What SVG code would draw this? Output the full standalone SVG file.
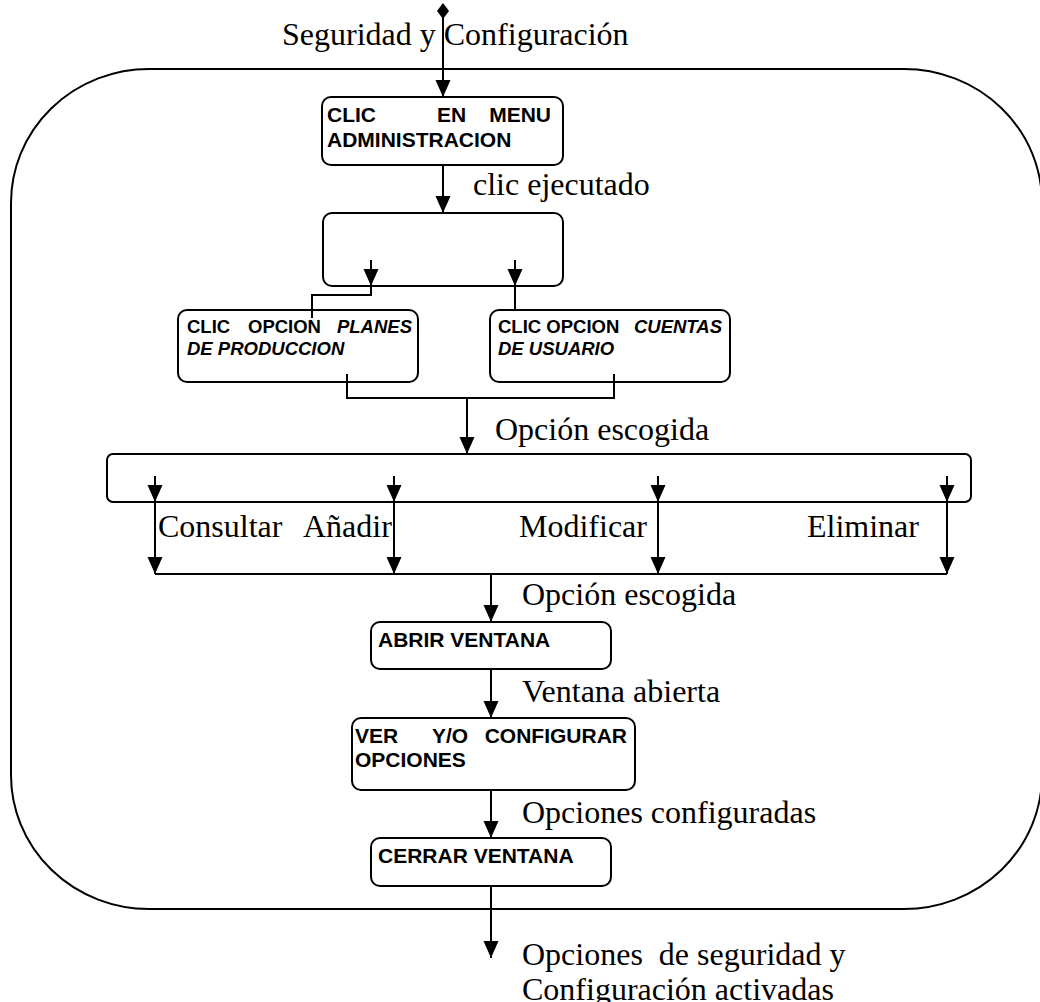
<svg xmlns="http://www.w3.org/2000/svg" width="1040" height="1002" viewBox="0 0 1040 1002">
  <defs>
    <marker id="arrow" markerUnits="userSpaceOnUse" markerWidth="18" markerHeight="16" refX="17" refY="7.5" orient="auto">
      <path d="M0,0 L17,7.5 L0,15 Z" fill="#000"/>
    </marker>
  </defs>
  <style>
    .box { fill: #fff; stroke: #000; stroke-width: 2; }
    .frame { fill: none; stroke: #000; stroke-width: 2; }
    .wire { fill: none; stroke: #000; stroke-width: 2; }
    .arr { fill: none; stroke: #000; stroke-width: 2; marker-end: url(#arrow); }
    .lbl { font-family: "Liberation Serif", "Times New Roman", serif; font-size: 32px; fill: #000; }
    .big { font-family: "Liberation Sans", Arial, sans-serif; font-size: 21px; font-weight: bold; fill: #000; }
    .small { font-family: "Liberation Sans", Arial, sans-serif; font-size: 18.5px; font-weight: bold; fill: #000; }
    .it { font-style: italic; }
  </style>

  <!-- outer process frame -->
  <rect class="frame" x="11" y="69" width="1031" height="840" rx="138" ry="134"/>

  <!-- connectors -->
  <g id="connectors">
    <polygon points="443,3 449,11 443,19 437,11" fill="#000"/>
    <line class="arr" x1="443" y1="11" x2="443" y2="97"/>
    <line class="arr" x1="443" y1="165" x2="443" y2="213"/>
    <polyline class="wire" points="371,286 371,295 312,295 312,318"/>
    <line class="wire" x1="515" y1="286" x2="515" y2="310"/>
    <polyline class="wire" points="347,374 347,398 614,398 614,374"/>
    <line class="arr" x1="467" y1="398" x2="467" y2="454"/>
    <line class="arr" x1="155" y1="502" x2="155" y2="574"/>
    <line class="arr" x1="394" y1="502" x2="394" y2="574"/>
    <line class="arr" x1="658" y1="502" x2="658" y2="574"/>
    <line class="arr" x1="947" y1="502" x2="947" y2="574"/>
    <line class="wire" x1="155" y1="574" x2="947" y2="574"/>
    <line class="arr" x1="491" y1="574" x2="491" y2="622"/>
    <line class="arr" x1="491" y1="669" x2="491" y2="718"/>
    <line class="arr" x1="491" y1="790" x2="491" y2="838"/>
    <line class="arr" x1="491" y1="886" x2="491" y2="958"/>
  </g>

  <!-- flow labels -->
  <g id="labels">
    <text class="lbl" x="282" y="45">Seguridad y Configuración</text>
    <text class="lbl" x="473" y="195">clic ejecutado</text>
    <text class="lbl" x="495" y="440">Opción escogida</text>
    <text class="lbl" x="158" y="537">Consultar</text>
    <text class="lbl" x="303" y="537">Añadir</text>
    <text class="lbl" x="519" y="537">Modificar</text>
    <text class="lbl" x="807" y="537">Eliminar</text>
    <text class="lbl" x="522" y="605">Opción escogida</text>
    <text class="lbl" x="522" y="702">Ventana abierta</text>
    <text class="lbl" x="522" y="823">Opciones configuradas</text>
    <text class="lbl" x="522" y="965" xml:space="preserve">Opciones  de seguridad y</text>
    <text class="lbl" x="522" y="1000">Configuración activadas</text>
  </g>

  <g id="menu-admin">
    <rect class="box" x="322" y="97" width="241" height="68" rx="9"/>
    <text class="big" x="327" y="122">CLIC</text>
    <text class="big" x="437" y="122">EN</text>
    <text class="big" x="551" y="122" text-anchor="end">MENU</text>
    <text class="big" x="327" y="147">ADMINISTRACION</text>
  </g>

  <g id="menu-split">
    <rect class="box" x="323" y="213" width="240" height="73" rx="9"/>
    <line class="arr" x1="371" y1="260" x2="371" y2="286"/>
    <line class="arr" x1="515" y1="260" x2="515" y2="286"/>
  </g>

  <g id="opt-planes">
    <rect class="box" x="178" y="310" width="240" height="72" rx="9"/>
    <line class="wire" x1="312" y1="310" x2="312" y2="318"/>
    <line class="wire" x1="347" y1="374" x2="347" y2="382"/>
    <text class="small" x="187" y="333">CLIC</text>
    <text class="small" x="248" y="333">OPCION</text>
    <text class="small it" x="412" y="333" text-anchor="end">PLANES</text>
    <text class="small it" x="187" y="355">DE PRODUCCION</text>
  </g>

  <g id="opt-cuentas">
    <rect class="box" x="490" y="310" width="240" height="72" rx="9"/>
    <line class="wire" x1="614" y1="374" x2="614" y2="382"/>
    <text class="small" x="498" y="333">CLIC OPCION</text>
    <text class="small it" x="722" y="333" text-anchor="end">CUENTAS</text>
    <text class="small it" x="498" y="355">DE USUARIO</text>
  </g>

  <g id="actions">
    <rect class="box" x="107" y="454" width="864" height="48" rx="6"/>
    <line class="arr" x1="155" y1="476" x2="155" y2="502"/>
    <line class="arr" x1="394" y1="476" x2="394" y2="502"/>
    <line class="arr" x1="658" y1="476" x2="658" y2="502"/>
    <line class="arr" x1="947" y1="476" x2="947" y2="502"/>
  </g>

  <g id="abrir-ventana">
    <rect class="box" x="371" y="622" width="240" height="47" rx="9"/>
    <text class="big" x="378" y="647">ABRIR VENTANA</text>
  </g>

  <g id="configurar">
    <rect class="box" x="352" y="718" width="283" height="72" rx="9"/>
    <text class="big" x="355" y="743">VER</text>
    <text class="big" x="432" y="743">Y/O</text>
    <text class="big" x="627" y="743" text-anchor="end">CONFIGURAR</text>
    <text class="big" x="355" y="767">OPCIONES</text>
  </g>

  <g id="cerrar-ventana">
    <rect class="box" x="371" y="838" width="240" height="48" rx="9"/>
    <text class="big" x="378" y="863">CERRAR VENTANA</text>
  </g>
</svg>
